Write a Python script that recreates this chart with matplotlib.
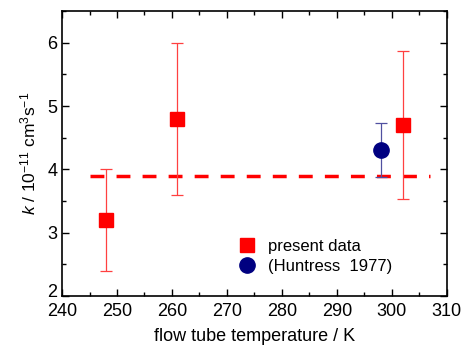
import matplotlib
matplotlib.use('Agg')
import matplotlib.pyplot as plt
import matplotlib.transforms as mtransforms
from matplotlib.lines import Line2D
from matplotlib.ticker import MultipleLocator

plt.rcParams['font.family'] = ['Liberation Sans', 'DejaVu Sans']
plt.rcParams['mathtext.fontset'] = 'custom'
plt.rcParams['mathtext.rm'] = 'Liberation Sans'
plt.rcParams['mathtext.it'] = 'Liberation Sans:italic'

# present data
temps = [248, 261, 302]
k_vals = [3.2, 4.8, 4.7]
k_lo = [2.4, 3.6, 3.53]
k_hi = [4.0, 6.0, 5.87]

# Huntress 1977
h_temp = [298]
h_k = [4.3]
h_lo = [3.88]
h_hi = [4.73]

# average line
avg_T = [245, 307]
avg_k = [3.9, 3.9]

fig = plt.figure(figsize=(4.63, 3.47), dpi=100)
ax = fig.add_axes([0.134, 0.147, 0.831, 0.821])

ax.plot(avg_T, avg_k, '--', color='#ff0000', lw=2.5, dashes=(4, 3.5))

yerr = [[v - l for v, l in zip(k_vals, k_lo)], [h - v for v, h in zip(k_vals, k_hi)]]
ax.errorbar(temps, k_vals, yerr=yerr, fmt='s', color='#ff0000', ms=10,
            ecolor='#ff4040', elinewidth=0.9, capsize=4, capthick=0.9, zorder=3)
herr = [[v - l for v, l in zip(h_k, h_lo)], [h - v for v, h in zip(h_k, h_hi)]]
ax.errorbar(h_temp, h_k, yerr=herr, fmt='o', color='#000080', ms=11,
            ecolor='#5050a0', elinewidth=0.9, capsize=4, capthick=0.9, zorder=3)

ax.set_xlim(240, 310)
ax.set_ylim(2, 6.5)
ax.xaxis.set_major_locator(MultipleLocator(10))
ax.xaxis.set_minor_locator(MultipleLocator(5))
ax.yaxis.set_major_locator(MultipleLocator(1))
ax.yaxis.set_minor_locator(MultipleLocator(0.5))
ax.tick_params(which='both', direction='in', top=True, right=True, labelsize=13, width=1)
ax.tick_params(which='major', length=5)
ax.tick_params(which='minor', length=3)
ax.tick_params(axis='x', pad=5)
for s in ax.spines.values():
    s.set_linewidth(1.2)

ax.set_xlabel('flow tube temperature / K', fontsize=13, labelpad=6)
ax.set_ylabel(r'$k$ / 10$^{-11}$ cm$^3$s$^{-1}$', fontsize=12.5, labelpad=6)

# nudge the bottom y label up so it clears "240"
fig.canvas.draw()
for lab in ax.get_yticklabels():
    if lab.get_text() == '2':
        lab.set_transform(lab.get_transform() +
                          mtransforms.ScaledTranslation(0, 4 / 72, fig.dpi_scale_trans))

handles = [Line2D([], [], ls='none', marker='s', color='#ff0000', ms=10),
           Line2D([], [], ls='none', marker='o', color='#000080', ms=11)]
ax.legend(handles, ['present data', '(Huntress  1977)'], loc='lower left',
          bbox_to_anchor=(0.41, 0.025), frameon=False, fontsize=12,
          handletextpad=0.5, labelspacing=0.3, handlelength=1.5)

fig.savefig('out.png', dpi=100)
